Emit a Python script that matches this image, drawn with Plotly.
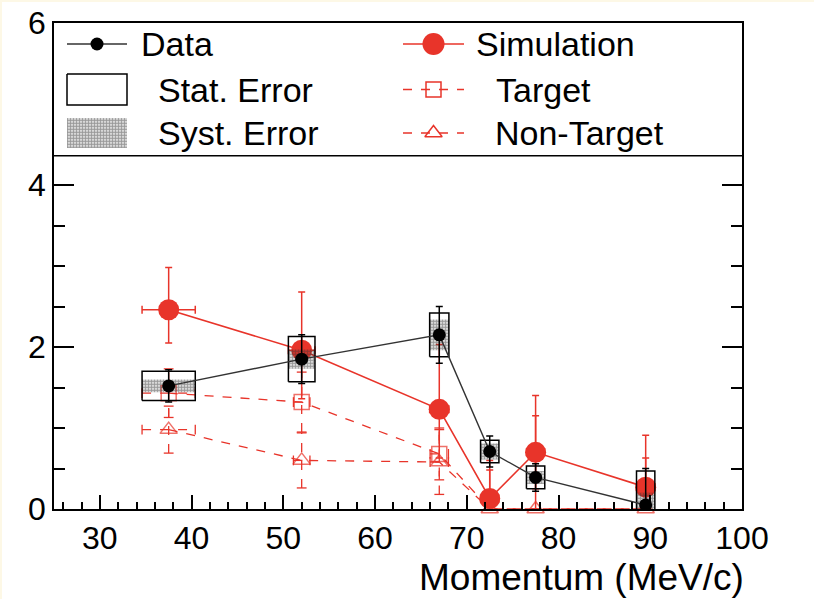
import plotly.graph_objects as go

# ---------------- data ----------------
momentum = [37.5, 52.0, 67.0, 72.5, 77.5, 89.5]
bin_half = [2.9, 1.45, 1.05, 1.0, 1.0, 1.0]

data_y = [1.52, 1.85, 2.15, 0.71, 0.39, 0.05]
data_stat = [0.18, 0.28, 0.27, 0.14, 0.14, 0.42]
data_syst = [0.08, 0.12, 0.19, 0.10, 0.08, 0.15]
data_tot = [0.20, 0.30, 0.35, 0.19, 0.17, 0.45]

sim_y = [2.46, 1.96, 1.23, 0.13, 0.70, 0.27]
sim_err_up = [0.52, 0.72, 0.80, 0.47, 0.70, 0.64]
sim_err_dn = [0.41, 0.60, 0.60, 0.13, 0.70, 0.27]
sim_inner = [0.0, 0.0, 0.0, 0.35, 0.45, 0.36]

target_y = [1.43, 1.32, 0.68, 0.0, 0.0, 0.0]
target_err = [0.30, 0.37, 0.32, 0.0, 0.0, 0.0]
nontarget_y = [0.98, 0.60, 0.58, 0.0, 0.0, 0.0]
nontarget_err = [0.29, 0.34, 0.40, 0.0, 0.0, 0.0]
mc_xerr = [2.9, 0.9, 1.0, 1.0, 1.0, 1.0]

x_ticks = [30, 40, 50, 60, 70, 80, 90, 100]
y_ticks = [0, 2, 4, 6]
y_minor = [0.5, 1, 1.5, 2.5, 3, 3.5]

legend_labels = ["Data", "Simulation", "Stat. Error", "Target", "Syst. Error", "Non-Target"]
x_title = "Momentum (MeV/c)"

# ---------------- style ----------------
RED = "#e8342a"
BLACK = "#000000"
FONT = "Liberation Sans"
LEGEND_SEP = 4.36
HATCH = dict(shape=".", fgcolor="#333333", bgcolor="rgba(255,255,255,0)", size=3, solidity=0.7)

fig = go.Figure()


def boxes(xs, ys, hw, hh):
    bx, by = [], []
    for x, y, w, h in zip(xs, ys, hw, hh):
        bx += [x - w, x + w, x + w, x - w, x - w, None]
        by += [y - h, y - h, y + h, y + h, y - h, None]
    return bx, by


def dashed_err(xs, ys, ex, ey):
    vx, vy, hx, hy = [], [], [], []
    cx, cy, chx, chy = [], [], [], []
    for x, y, a, b in zip(xs, ys, ex, ey):
        if b > 0:
            vx += [x, x, None]
            vy += [y - b, y + b, None]
            cx += [x, x]
            cy += [y - b, y + b]
            hx += [x - a, x + a, None]
            hy += [y, y, None]
            chx += [x - a, x + a]
            chy += [y, y]
    return vx, vy, hx, hy, cx, cy, chx, chy


# target / non-target (dashed)
for ys, es, sym, hide_zero in [(target_y, target_err, "square-open", True),
                               (nontarget_y, nontarget_err, "triangle-up-open", False)]:
    vx, vy, hx, hy, cx, cy, chx, chy = dashed_err(momentum, ys, mc_xerr, es)
    fig.add_trace(go.Scatter(x=vx + hx, y=vy + hy, mode="lines",
                             line=dict(color=RED, width=1.3, dash="dash"),
                             hoverinfo="skip", showlegend=False))
    fig.add_trace(go.Scatter(x=cx, y=cy, mode="markers",
                             marker=dict(symbol="line-ew", size=7, line=dict(width=1.3, color=RED)),
                             hoverinfo="skip", showlegend=False))
    fig.add_trace(go.Scatter(x=chx, y=chy, mode="markers",
                             marker=dict(symbol="line-ns", size=7, line=dict(width=1.3, color=RED)),
                             hoverinfo="skip", showlegend=False))
    sizes = [15 if (v > 0 or not hide_zero) else 0 for v in ys]
    fig.add_trace(go.Scatter(x=momentum, y=ys, mode="lines+markers",
                             line=dict(color=RED, width=1.3, dash="dash"),
                             marker=dict(symbol=sym, size=sizes, color=RED, line=dict(width=1.5, color=RED)),
                             cliponaxis=False, showlegend=False))

# simulation
fig.add_trace(go.Scatter(x=momentum, y=sim_y, mode="markers",
                         marker=dict(size=0.1, color=RED),
                         error_y=dict(type="data", array=sim_inner, color=RED, thickness=1.5, width=3.5),
                         hoverinfo="skip", showlegend=False))
fig.add_trace(go.Scatter(x=momentum, y=sim_y, mode="lines+markers",
                         line=dict(color=RED, width=1.6),
                         marker=dict(symbol="circle", size=21, color=RED),
                         error_y=dict(type="data", symmetric=False, array=sim_err_up,
                                      arrayminus=sim_err_dn, color=RED, thickness=1.5, width=3.5),
                         error_x=dict(type="data", array=bin_half, color=RED, thickness=1.5, width=4),
                         showlegend=False))

# systematic (hatched) boxes
sx, sy = boxes(momentum, data_y, bin_half, data_syst)
fig.add_trace(go.Scatter(x=sx, y=sy, mode="lines", fill="toself",
                         fillcolor="rgba(0,0,0,0)", fillpattern=HATCH,
                         line=dict(width=0, color="rgba(0,0,0,0)"),
                         hoverinfo="skip", showlegend=False))
# stat boxes
bx, by = boxes(momentum, data_y, bin_half, data_stat)
fig.add_trace(go.Scatter(x=bx, y=by, mode="lines", line=dict(color=BLACK, width=1.5),
                         hoverinfo="skip", showlegend=False))
# data
fig.add_trace(go.Scatter(x=momentum, y=data_y, mode="lines+markers",
                         line=dict(color="#333333", width=1.4),
                         marker=dict(symbol="circle", size=13, color=BLACK),
                         error_y=dict(type="data", array=data_tot, color=BLACK, thickness=1.5, width=3.5),
                         showlegend=False))

# ---------------- legend (overlay axes in pixel units) ----------------
LX = dict(overlaying="x", range=[54, 742], visible=False, fixedrange=True, automargin=False)
LY = dict(overlaying="y", range=[509, 23], visible=False, fixedrange=True, automargin=False)
col1_key = (67, 127)
col2_key = (403, 464)
rows = [44, 89.5, 133]

# Data key
fig.add_trace(go.Scatter(x=[col1_key[0], col1_key[1]], y=[rows[0], rows[0]], xaxis="x2", yaxis="y2",
                         mode="lines", line=dict(color="#333333", width=1.4), showlegend=False, hoverinfo="skip"))
fig.add_trace(go.Scatter(x=[sum(col1_key) / 2], y=[rows[0]], xaxis="x2", yaxis="y2",
                         mode="markers", marker=dict(size=13, color=BLACK), showlegend=False, hoverinfo="skip"))
# Simulation key
fig.add_trace(go.Scatter(x=[col2_key[0], col2_key[1]], y=[rows[0], rows[0]], xaxis="x2", yaxis="y2",
                         mode="lines", line=dict(color=RED, width=1.6), showlegend=False, hoverinfo="skip"))
fig.add_trace(go.Scatter(x=[sum(col2_key) / 2], y=[rows[0]], xaxis="x2", yaxis="y2",
                         mode="markers", marker=dict(size=22, color=RED), showlegend=False, hoverinfo="skip"))
# Stat box key
fig.add_trace(go.Scatter(x=[67, 127, 127, 67, 67], y=[74, 74, 105, 105, 74], xaxis="x2", yaxis="y2",
                         mode="lines", line=dict(color=BLACK, width=1.5), showlegend=False, hoverinfo="skip"))
# Syst box key
fig.add_trace(go.Scatter(x=[67, 127, 127, 67, 67], y=[118, 118, 148, 148, 118], xaxis="x2", yaxis="y2",
                         mode="lines", fill="toself", fillcolor="rgba(0,0,0,0)", fillpattern=HATCH,
                         line=dict(width=0, color="rgba(0,0,0,0)"), showlegend=False, hoverinfo="skip"))
# Target / Non-target keys
for r, sym in [(rows[1], "square-open"), (rows[2], "triangle-up-open")]:
    fig.add_trace(go.Scatter(x=[col2_key[0], col2_key[1]], y=[r, r], xaxis="x2", yaxis="y2",
                             mode="lines", line=dict(color=RED, width=1.3, dash="dash"),
                             showlegend=False, hoverinfo="skip"))
    fig.add_trace(go.Scatter(x=[sum(col2_key) / 2], y=[r], xaxis="x2", yaxis="y2",
                             mode="markers", marker=dict(symbol=sym, size=15, color=RED,
                                                         line=dict(width=1.5, color=RED)),
                             showlegend=False, hoverinfo="skip"))

text_pos = [(142, rows[0]), (477, rows[0]), (159, rows[1]), (497, rows[1]), (159, rows[2]), (496, rows[2])]
annotations = []
for lab, (tx, ty) in zip(legend_labels, text_pos):
    annotations.append(dict(x=tx, y=ty, xref="x2", yref="y2", text=lab, showarrow=False,
                            xanchor="left", yanchor="middle", xshift=-3,
                            font=dict(family=FONT, size=34, color=BLACK)))
annotations.append(dict(x=1, y=-0.14, xref="paper", yref="paper", text=x_title, showarrow=False,
                        xanchor="right", yanchor="middle", xshift=4,
                        font=dict(family=FONT, size=37, color=BLACK)))

fig.update_layout(
    width=814, height=599,
    margin=dict(l=54, r=72, t=23, b=90, autoexpand=False),
    paper_bgcolor="#fdf8e6", plot_bgcolor="white",
    showlegend=False,
    font=dict(family=FONT, color=BLACK),
    xaxis=dict(range=[25, 100], tickvals=x_ticks, ticks="inside", ticklen=14, tickwidth=1.5,
               tickcolor=BLACK, showline=True, linecolor=BLACK, linewidth=1.5, mirror=True,
               showgrid=False, zeroline=False, automargin=False,
               minor=dict(dtick=2, tick0=0, ticks="inside", ticklen=7, tickwidth=1.5, tickcolor=BLACK,
                          showgrid=False),
               tickfont=dict(family=FONT, size=32, color=BLACK)),
    yaxis=dict(range=[0, 6], tickvals=y_ticks, ticks="inside", ticklen=20, tickwidth=1.5,
               tickcolor=BLACK, showline=True, linecolor=BLACK, linewidth=1.5, mirror="ticks",
               showgrid=False, zeroline=False, automargin=False,
               minor=dict(tickvals=y_minor, ticks="inside", ticklen=11, tickwidth=1.5, tickcolor=BLACK,
                          showgrid=False),
               tickfont=dict(family=FONT, size=32, color=BLACK)),
    xaxis2=LX, yaxis2=LY,
    shapes=[
        # white page with a thin cream edge at top/left, as in the original screenshot
        dict(type="rect", xref="paper", yref="paper", layer="below",
             x0=(2 - 54) / 688, x1=(820 - 54) / 688, y0=(509 - 605) / 486, y1=(509 - 2) / 486,
             fillcolor="white", line=dict(width=0)),
        dict(type="line", xref="paper", x0=0, x1=1, yref="y", y0=LEGEND_SEP, y1=LEGEND_SEP,
             line=dict(color=BLACK, width=1.5)),
    ],
    annotations=annotations,
)

fig.write_html("out.html")
